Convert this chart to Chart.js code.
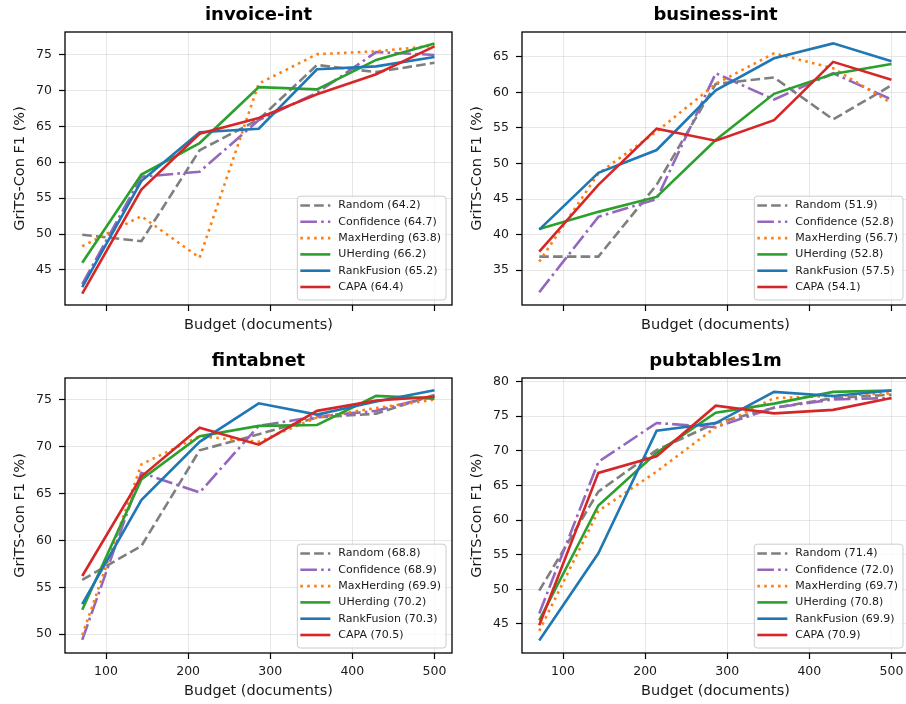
<!DOCTYPE html>
<html>
<head>
<meta charset="utf-8">
<script src="https://cdn.jsdelivr.net/npm/chart.js@4.4.0/dist/chart.umd.min.js"></script>
<style>
  html, body { margin: 0; padding: 0; background: #fff; width: 906px; height: 704px; overflow: hidden; }
  canvas { position: absolute; }
</style>
</head>
<body>
<canvas id="panel0" width="455" height="340" style="left:0px;top:0px"></canvas>
<canvas id="panel1" width="455" height="340" style="left:457px;top:0px"></canvas>
<canvas id="panel2" width="455" height="364" style="left:0px;top:340px"></canvas>
<canvas id="panel3" width="455" height="364" style="left:457px;top:340px"></canvas>
<script>
// budgets (x) and shared tick labels
const budgets = [71, 143, 214, 286, 357, 429, 500];
const xTicks = [100, 200, 300, 400, 500];
const methods = ["Random", "Confidence", "MaxHerding", "UHerding", "RankFusion", "CAPA"];
const colors = ["#7f7f7f", "#9467bd", "#ff7f0e", "#2ca02c", "#1f77b4", "#d62728"];
const dashes = [[9.6, 4.2], [16.6, 4.2, 2.6, 4.2], [2.6, 4.3], [], [], []];

// invoice-int  (rows follow methods order)
const invoiceValues = [
  [49.9, 49.0, 61.7, 66.0, 73.6, 72.6, 73.9],
  [43.0, 58.0, 58.7, 65.9, 69.7, 75.4, 75.0],
  [48.3, 52.5, 46.7, 71.0, 75.1, 75.5, 76.3],
  [46.0, 58.3, 62.7, 70.5, 70.2, 74.3, 76.6],
  [42.6, 57.4, 64.2, 64.7, 73.0, 73.4, 74.7],
  [41.7, 56.2, 64.0, 66.2, 69.5, 72.3, 76.2]
];
const invoiceMeans = [64.2, 64.7, 63.8, 66.2, 65.2, 64.4];
const invoiceTicks = [45, 50, 55, 60, 65, 70, 75];

// business-int
const businessValues = [
  [36.9, 36.9, 47.0, 61.2, 62.1, 56.2, 61.0],
  [31.9, 42.5, 45.0, 62.7, 59.0, 62.7, 59.0],
  [36.2, 48.6, 54.5, 61.2, 65.5, 63.4, 58.5],
  [40.8, 43.2, 45.3, 53.3, 59.8, 62.6, 64.0],
  [40.7, 48.7, 51.9, 60.3, 64.8, 66.9, 64.4],
  [37.6, 47.0, 54.9, 53.2, 56.1, 64.3, 61.8]
];
const businessMeans = [51.9, 52.8, 56.7, 52.8, 57.5, 54.1];
const businessTicks = [35, 40, 45, 50, 55, 60, 65];

// fintabnet
const fintabValues = [
  [55.8, 59.4, 69.6, 71.3, 73.1, 73.5, 75.5],
  [49.4, 67.2, 65.1, 72.2, 73.2, 73.8, 75.4],
  [49.9, 68.1, 71.1, 70.5, 73.1, 74.1, 75.0],
  [52.6, 66.5, 71.1, 72.2, 72.3, 75.4, 75.1],
  [53.2, 64.3, 70.5, 74.6, 73.4, 74.8, 76.0],
  [56.2, 66.8, 72.0, 70.2, 73.8, 74.9, 75.3]
];
const fintabMeans = [68.8, 68.9, 69.9, 70.2, 70.3, 70.5];
const fintabTicks = [50, 55, 60, 65, 70, 75];

// pubtables1m
const pubtablesValues = [
  [49.8, 64.1, 70.1, 74.0, 76.2, 77.6, 78.1],
  [46.5, 68.4, 74.0, 73.4, 76.2, 77.4, 77.6],
  [44.0, 61.3, 67.0, 73.4, 77.6, 77.9, 78.3],
  [45.5, 62.1, 69.7, 75.5, 76.8, 78.5, 78.7],
  [42.6, 55.2, 72.9, 74.0, 78.5, 77.9, 78.7],
  [44.8, 66.8, 69.2, 76.5, 75.4, 75.9, 77.6]
];
const pubtablesMeans = [71.4, 72.0, 69.7, 70.8, 69.9, 70.9];
const pubtablesTicks = [45, 50, 55, 60, 65, 70, 75, 80];

const fontFamily = "'DejaVu Sans', sans-serif";
const textColor = "#1a1a1a";
const gridColor = "rgba(176,176,176,0.3)";

// frame + title drawn around the plot area, like the axes box
const framePlugin = {
  id: "frame",
  afterDraw(chart, args, opts) {
    const { ctx, chartArea: a } = chart;
    ctx.save();
    ctx.strokeStyle = "#000";
    ctx.lineWidth = 1.3;
    ctx.strokeRect(a.left, a.top, a.right - a.left, a.bottom - a.top);
    ctx.fillStyle = "#000";
    ctx.font = "bold 18px " + fontFamily;
    ctx.textAlign = "center";
    ctx.textBaseline = "alphabetic";
    ctx.fillText(opts.text, (a.left + a.right) / 2, a.top - 12);
    ctx.restore();
  }
};

// legend box in the lower right corner of the plot
const boxLegendPlugin = {
  id: "boxLegend",
  afterDraw(chart, args, opts) {
    const { ctx, chartArea: a } = chart;
    const rowH = 16.3;
    ctx.save();
    ctx.font = "11px " + fontFamily;
    const labels = opts.labels;
    const maxW = Math.max(...labels.map((t) => ctx.measureText(t).width));
    const w = 41 + maxW + 5;
    const h = rowH * labels.length + 6;
    const right = a.right - 6;
    const bottom = a.bottom - 5;
    const left = right - w;
    const top = bottom - h;
    ctx.beginPath();
    ctx.roundRect(left, top, w, h, 3);
    ctx.fillStyle = "rgba(255,255,255,0.8)";
    ctx.fill();
    ctx.strokeStyle = "#cccccc";
    ctx.lineWidth = 1;
    ctx.stroke();
    labels.forEach((text, i) => {
      const ds = chart.data.datasets[i];
      const y = top + 9.3 + i * rowH;
      ctx.beginPath();
      ctx.setLineDash(ds.borderDash);
      ctx.lineWidth = ds.borderWidth;
      ctx.strokeStyle = ds.borderColor;
      ctx.moveTo(left + 3, y);
      ctx.lineTo(left + 33, y);
      ctx.stroke();
      ctx.setLineDash([]);
      ctx.fillStyle = textColor;
      ctx.textAlign = "left";
      ctx.textBaseline = "middle";
      ctx.fillText(text, left + 41, y);
    });
    ctx.restore();
  }
};

function makePanel(canvasId, title, values, means, yMin, yMax, yTicks, bottomRow) {
  const datasets = values.map((row, i) => ({
    label: methods[i],
    data: row.map((v, j) => ({ x: budgets[j], y: v })),
    borderColor: colors[i],
    backgroundColor: colors[i],
    borderWidth: 2.6,
    borderDash: dashes[i],
    pointRadius: 0,
    tension: 0,
    order: methods.length - i
  }));
  const legendLabels = methods.map((m, i) => m + " (" + means[i].toFixed(1) + ")");

  return new Chart(document.getElementById(canvasId), {
    type: "line",
    data: { datasets: datasets },
    plugins: [framePlugin, boxLegendPlugin],
    options: {
      responsive: false,
      animation: false,
      events: [],
      layout: { padding: { left: 0, right: 3, top: bottomRow ? 38 : 32, bottom: 0 } },
      plugins: {
        legend: { display: false },
        tooltip: { enabled: false },
        frame: { text: title },
        boxLegend: { labels: legendLabels }
      },
      scales: {
        x: {
          type: "linear",
          min: 50,
          max: 521.4,
          afterBuildTicks: (s) => { s.ticks = xTicks.map((v) => ({ value: v })); },
          afterFit: (s) => { s.height = bottomRow ? 51 : 35; },
          grid: { color: gridColor, lineWidth: 1, tickColor: "#000", tickLength: 6, tickWidth: 1.2 },
          border: { display: false },
          ticks: {
            callback: (v) => (bottomRow ? String(v) : ""),
            font: { family: fontFamily, size: 12.5 },
            color: textColor,
            padding: 5,
            maxRotation: 0,
            autoSkip: false
          },
          title: {
            display: true,
            text: "Budget (documents)",
            font: { family: fontFamily, size: 14.5 },
            color: textColor,
            padding: { top: 0, bottom: bottomRow ? 3.6 : 6.3 }
          }
        },
        y: {
          min: yMin,
          max: yMax,
          afterBuildTicks: (s) => { s.ticks = yTicks.map((v) => ({ value: v })); },
          afterFit: (s) => { s.width = 65; },
          grid: { color: gridColor, lineWidth: 1, tickColor: "#000", tickLength: 6, tickWidth: 1.2 },
          border: { display: false },
          ticks: {
            callback: (v) => String(v),
            font: { family: fontFamily, size: 12.5 },
            color: textColor,
            padding: 7
          },
          title: {
            display: true,
            text: "GriTS-Con F1 (%)",
            font: { family: fontFamily, size: 14.5 },
            color: textColor,
            padding: { top: 11.3, bottom: 0 }
          }
        }
      }
    }
  });
}

makePanel("panel0", "invoice-int", invoiceValues, invoiceMeans, 40.1, 78.2, invoiceTicks, false);
makePanel("panel1", "business-int", businessValues, businessMeans, 30.1, 68.5, businessTicks, false);
makePanel("panel2", "fintabnet", fintabValues, fintabMeans, 48.0, 77.3, fintabTicks, true);
makePanel("panel3", "pubtables1m", pubtablesValues, pubtablesMeans, 40.8, 80.5, pubtablesTicks, true);
</script>
</body>
</html>
